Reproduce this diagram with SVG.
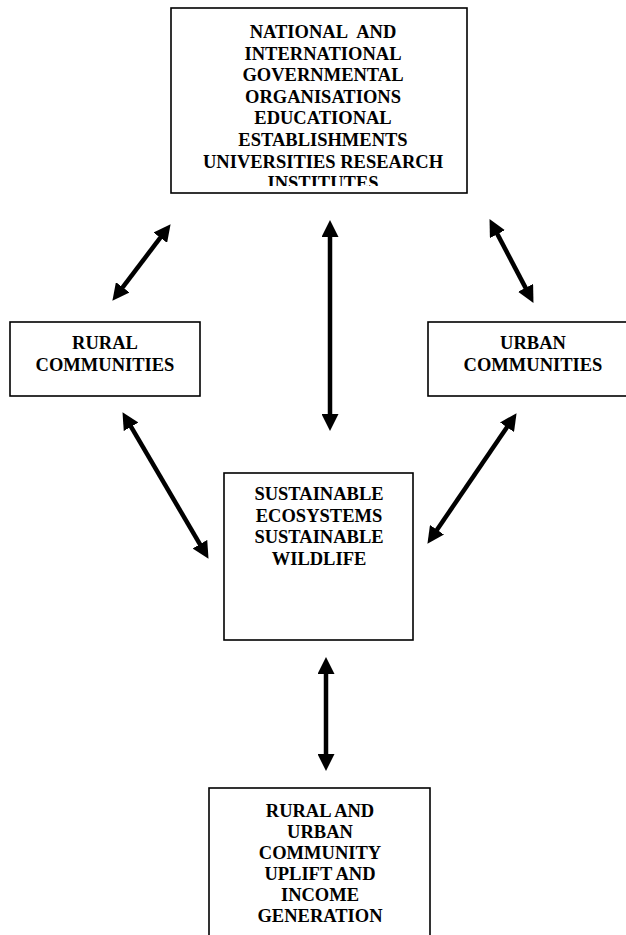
<svg xmlns="http://www.w3.org/2000/svg" width="626" height="935" viewBox="0 0 626 935">
<style>
.box{fill:#fff;stroke:#000;stroke-width:1.6}
.t{font-family:"Liberation Serif","Times New Roman",serif;font-weight:bold;font-size:18.5px;fill:#000;text-anchor:middle}
.arr{stroke:#000;stroke-width:4.5;fill:none;marker-start:url(#ah);marker-end:url(#ah)}
</style>
<defs>
<marker id="ah" viewBox="0 -8.5 17 17" markerWidth="17" markerHeight="17" markerUnits="userSpaceOnUse" refX="6" refY="0" orient="auto-start-reverse">
<path d="M0,-8.5 L17,0 L0,8.5 z" fill="#000"/>
</marker>
<clipPath id="topclip"><rect x="171" y="8" width="296" height="178"/></clipPath>
</defs>
<rect width="626" height="935" fill="#fff"/>
<g id="node-top">
<rect class="box" x="171" y="8" width="296" height="185"/>
<g clip-path="url(#topclip)">
<text class="t" x="323" y="38">NATIONAL&#160; AND</text>
<text class="t" x="323" y="59.6">INTERNATIONAL</text>
<text class="t" x="323" y="81.2">GOVERNMENTAL</text>
<text class="t" x="323" y="102.8">ORGANISATIONS</text>
<text class="t" x="323" y="124.4">EDUCATIONAL</text>
<text class="t" x="323" y="146">ESTABLISHMENTS</text>
<text class="t" x="323" y="167.6">UNIVERSITIES RESEARCH</text>
<text class="t" x="323" y="189.2">INSTITUTES</text>
</g>
</g>
<g id="node-rural">
<rect class="box" x="10" y="322" width="190" height="74"/>
<text class="t" x="105" y="349">RURAL</text>
<text class="t" x="105" y="371">COMMUNITIES</text>
</g>
<g id="node-urban">
<rect class="box" x="428" y="322" width="202" height="74"/>
<text class="t" x="533" y="349">URBAN</text>
<text class="t" x="533" y="371">COMMUNITIES</text>
</g>
<g id="node-sustainable">
<rect class="box" x="224" y="473" width="189" height="167"/>
<text class="t" x="319" y="500">SUSTAINABLE</text>
<text class="t" x="319" y="521.5">ECOSYSTEMS</text>
<text class="t" x="319" y="543">SUSTAINABLE</text>
<text class="t" x="319" y="564.5">WILDLIFE</text>
</g>
<g id="node-uplift">
<rect class="box" x="209" y="788" width="221" height="155"/>
<text class="t" x="320" y="817">RURAL AND</text>
<text class="t" x="320" y="838">URBAN</text>
<text class="t" x="320" y="859">COMMUNITY</text>
<text class="t" x="320" y="880">UPLIFT AND</text>
<text class="t" x="320" y="901">INCOME</text>
<text class="t" x="320" y="922">GENERATION</text>
</g>
<g id="connectors">
<line class="arr" x1="163.95" y1="232.96" x2="119.05" y2="292.04"/>
<line class="arr" x1="330" y1="231" x2="330" y2="420"/>
<line class="arr" x1="494.64" y1="228.85" x2="528.36" y2="293.15"/>
<line class="arr" x1="128.06" y1="421.63" x2="202.94" y2="549.37"/>
<line class="arr" x1="510.37" y1="422.26" x2="433.63" y2="534.74"/>
<line class="arr" x1="326" y1="668" x2="326" y2="760"/>
</g>
</svg>
